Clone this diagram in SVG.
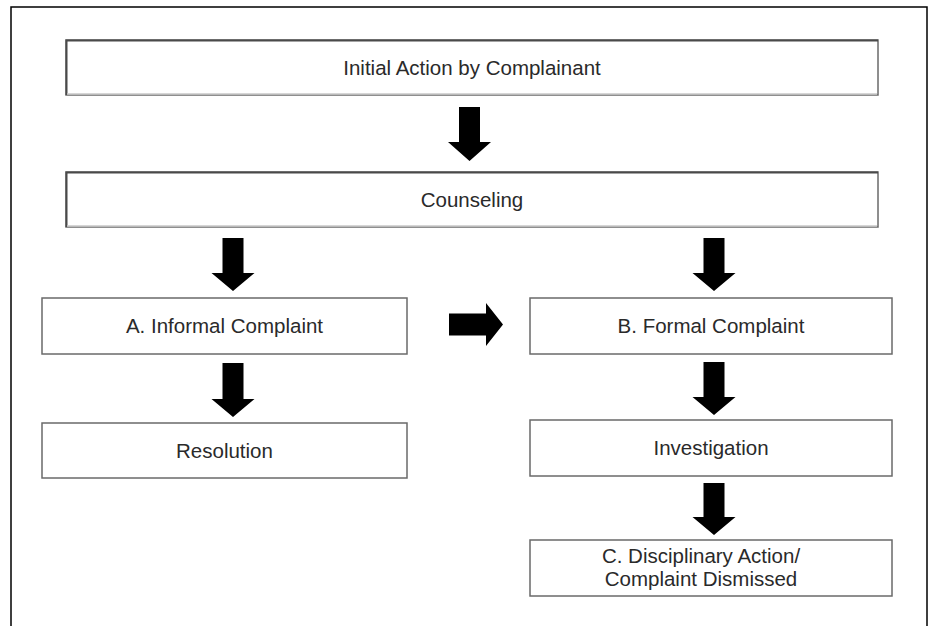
<svg xmlns="http://www.w3.org/2000/svg" width="933" height="626" viewBox="0 0 933 626">
<style>
.box{fill:#fff;stroke:#6a6a6a;stroke-width:1.5}
.bev{fill:none;stroke:#4a4a4a;stroke-width:2}
.lt{fill:none;stroke:#c8c8c8;stroke-width:1.5}
.t{font-family:"Liberation Sans",Arial,sans-serif;font-size:20.5px;fill:#2a2a2a;text-anchor:middle}
.arr{fill:#000}
</style>
<rect width="933" height="626" fill="#fff"/>
<path d="M11,626 V7 H927 V626" fill="none" stroke="#000" stroke-width="1.5"/>
<g id="n1">
<rect class="box" x="66" y="40" width="812" height="55"/>
<path class="bev" d="M66.5,95 V40.5 H878"/>
<path class="lt" d="M67,94 H877"/>
<text class="t" x="472" y="75">Initial Action by Complainant</text>
</g>
<g id="n2">
<rect class="box" x="66" y="172" width="812" height="55"/>
<path class="bev" d="M66.5,227 V172.5 H878"/>
<path class="lt" d="M67,226 H877"/>
<text class="t" x="472" y="207">Counseling</text>
</g>
<g id="nA">
<rect class="box" x="42" y="298" width="365" height="56"/>
<text class="t" x="224.5" y="333">A. Informal Complaint</text>
</g>
<g id="nB">
<rect class="box" x="530" y="298" width="362" height="56"/>
<text class="t" x="711" y="333">B. Formal Complaint</text>
</g>
<g id="nR">
<rect class="box" x="42" y="423" width="365" height="55"/>
<text class="t" x="224.5" y="458">Resolution</text>
</g>
<g id="nI">
<rect class="box" x="530" y="420" width="362" height="56"/>
<text class="t" x="711" y="455">Investigation</text>
</g>
<g id="nC">
<rect class="box" x="530" y="540" width="362" height="56"/>
<text class="t" x="701" y="563">C. Disciplinary Action/</text>
<text class="t" x="701" y="586">Complaint Dismissed</text>
</g>
<g id="connectors">
<polygon class="arr" points="459,107 480,107 480,142 491,142 469.5,161 448,142 459,142"/>
<polygon class="arr" points="222.5,238 243.5,238 243.5,273 254.5,273 233,291 211.5,273 222.5,273"/>
<polygon class="arr" points="703.5,238 724.5,238 724.5,273 735.5,273 714,291 692.5,273 703.5,273"/>
<polygon class="arr" points="222.5,363 243.5,363 243.5,399 254.5,399 233,417 211.5,399 222.5,399"/>
<polygon class="arr" points="703.5,362 724.5,362 724.5,397 735.5,397 714,415 692.5,397 703.5,397"/>
<polygon class="arr" points="703.5,483 724.5,483 724.5,517 735.5,517 714,535 692.5,517 703.5,517"/>
<polygon class="arr" points="449,313.5 486,313.5 486,303 503,324.5 486,346 486,335.5 449,335.5"/>
</g>
</svg>
